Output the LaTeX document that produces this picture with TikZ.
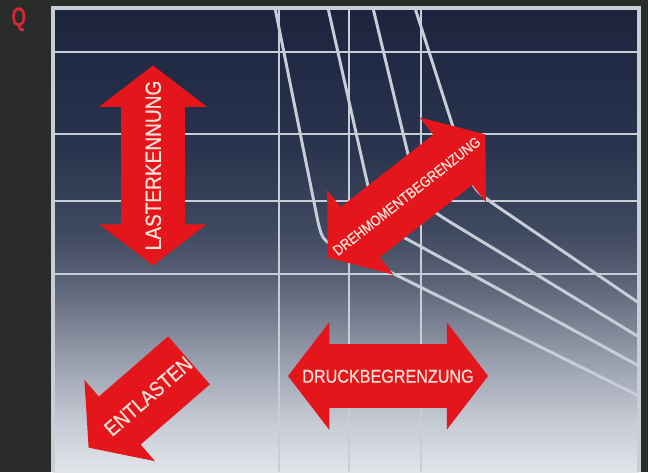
\documentclass[tikz,border=0pt]{standalone}
\usepackage{fontspec}
\usetikzlibrary{shapes.arrows}
\newfontfamily\labelfont{Liberation Sans}[FakeStretch=0.87, FakeBold=0.6]
\newfontfamily\qfont{Liberation Sans Bold}[FakeStretch=0.7]
\definecolor{framebg}{RGB}{42,44,42}
\definecolor{gridgray}{RGB}{200,206,216}
\definecolor{arrowred}{RGB}{228,22,28}
\definecolor{arrowtext}{RGB}{250,226,216}
\definecolor{qred}{RGB}{214,40,56}
\definecolor{panelbot}{RGB}{226,229,234}
\definecolor{panellow}{RGB}{196,201,211}
\definecolor{panelmid}{RGB}{145,151,166}
\definecolor{panelgray}{RGB}{96,104,123}
\definecolor{panelblue}{RGB}{62,72,95}
\definecolor{paneldark}{RGB}{42,52,78}
\definecolor{paneltop}{RGB}{28,36,62}
\pgfdeclareverticalshading{panelshade}{100bp}{color(0bp)=(panelbot); color(25bp)=(panelbot);
  color(30.6bp)=(panellow); color(38.1bp)=(panelmid); color(44.6bp)=(panelgray);
  color(51.1bp)=(panelblue); color(59.7bp)=(paneldark); color(75bp)=(paneltop); color(100bp)=(paneltop)}
\tikzset{
  gridline/.style={draw=gridgray, line width=2.1pt},
  limitcurve/.style={draw=gridgray, line width=2.1pt},
  bigarrow/.style={double arrow, fill=arrowred, draw=none, inner sep=0pt,
                   minimum width=2.675cm, minimum height=5cm,
                   double arrow head extend=0.55cm, double arrow tip angle=105,
                   text=arrowtext},
  onearrow/.style={single arrow, fill=arrowred, draw=none, inner sep=0pt,
                   minimum width=2.675cm, minimum height=3.325cm,
                   single arrow head extend=0.55cm, single arrow tip angle=105,
                   shape border rotate=180, text=arrowtext},
}

\begin{document}
\begin{tikzpicture}[x=0.025cm, y=-0.025cm]
    \useasboundingbox (0,0) rectangle (648,472);
    \fill[framebg] (0,0) rectangle (648,472);
    \shade[shading=panelshade] (53,8) rectangle (639,472);
    \node[text=qred, font=\qfont\fontsize{19}{19}\selectfont] (qlabel) at (19,20) {Q};

    \draw[gridline] (53,52) -- (639,52);
    \draw[gridline] (53,134) -- (639,134);
    \draw[gridline] (53,201) -- (639,201);
    \draw[gridline] (53,274) -- (639,274);
    \draw[gridline] (279,8) -- (279,472);
    \draw[gridline] (349,8) -- (349,472);
    \draw[gridline] (421,8) -- (421,472);

    \draw[limitcurve] (275,8) -- (318,222) .. controls (323,242) .. (352,253) -- (639,396);
    \draw[limitcurve] (328,8) -- (370,195) .. controls (376,222) .. (405,238) -- (639,366);
    \draw[limitcurve] (373,8) -- (413,175) .. controls (420,203) .. (450,222) -- (639,337);
    \draw[limitcurve] (415,8) -- (462,155) .. controls (473,189) .. (495,205) -- (639,303);

    \draw[draw=gridgray, line width=2.2pt] (53,472) -- (53,8) -- (639,8) -- (639,472);

    \node[bigarrow, rotate=90, text height=27.99pt, text depth=16.82pt,
          font=\labelfont\fontsize{15.6}{16}\selectfont] (lastkenn) at (153,165.5) {\makebox[0pt]{LASTERKENNUNG}};
    \node[bigarrow, rotate=38, text height=26.13pt, text depth=18.68pt,
          font=\labelfont\fontsize{10.4}{11}\selectfont] (drehmoment) at (406.5,196) {\makebox[0pt]{DREHMOMENTBEGRENZUNG}};
    \node[bigarrow, text height=27.13pt, text depth=17.68pt,
          font=\labelfont\fontsize{13.2}{14}\selectfont] (druck) at (388,376) {\makebox[0pt]{DRUCKBEGRENZUNG}};
    \node[onearrow, rotate=41, text height=27.78pt, text depth=17.04pt,
          font=\labelfont\fontsize{15}{16}\selectfont] (entlasten) at (148,396) {\makebox[0pt]{ENTLASTEN}};
  \end{tikzpicture}
\end{document}
